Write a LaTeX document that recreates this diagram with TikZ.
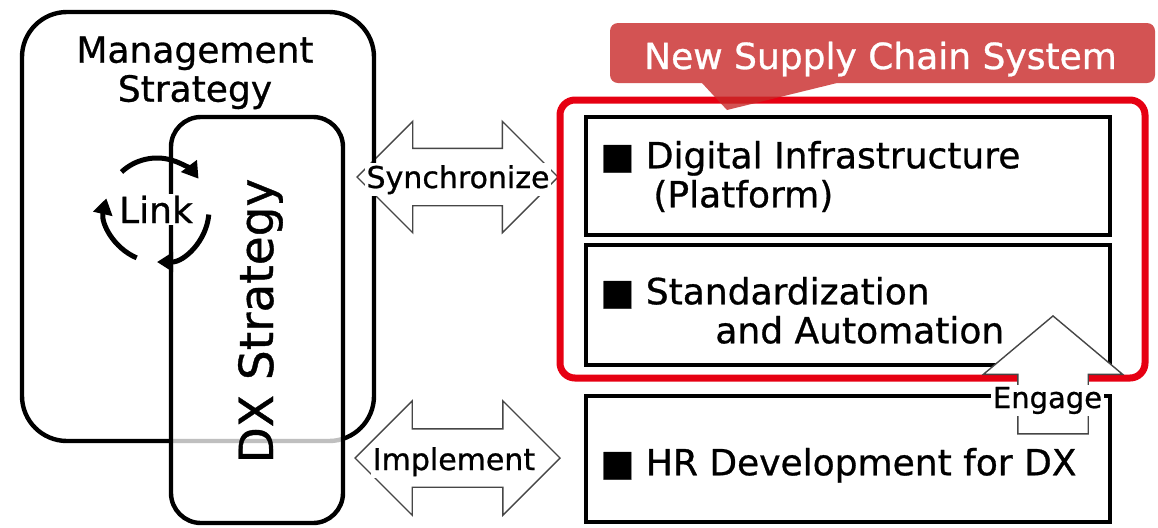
\documentclass[tikz,border=0pt]{standalone}
\usepackage{fontspec}
\setmainfont{DejaVu Sans}[FakeBold=0.8]
\usepackage{tikz}
\usetikzlibrary{%
        arrows.meta,
        shapes.arrows
    }
\definecolor{framered}{RGB}{230, 0, 18}
\definecolor{calloutred}{RGB}{200, 40, 40}
\definecolor{arrowgray}{RGB}{70, 70, 70}

\begin{document}
\begin{tikzpicture}[x=0.5pt, y=-0.5pt,
        bigtext/.style={font=\fontsize{18}{19.5}\selectfont, inner sep=0pt},
        boxtext/.style={bigtext, align=left, anchor=north west},
        itembox/.style={draw, line width=2pt, fill=white,
            minimum width=262pt, inner sep=0pt},
        fatarrow/.style={draw=arrowgray, line width=0.7pt, fill=white,
            inner xsep=0pt},
        arrowlabel/.style={fill=white, inner sep=1pt, anchor=base,
            font=\fontsize{15}{17}\selectfont},
        linkarrow/.style={line width=2.5pt,
            -{Triangle[length=8pt, width=9.5pt]}}
    ]

    \useasboundingbox (0, 0) rectangle (1158, 527);

    % two-way arrows between the strategies and the system
    \node[fatarrow, double arrow, minimum height=100.5pt, inner ysep=14pt,
        double arrow head extend=13.5pt] (sync) at (457.5, 177) {};
    \node[fatarrow, double arrow, minimum height=102.5pt, inner ysep=14.25pt,
        double arrow head extend=14pt] (impl) at (457.5, 458) {};

    % strategy boxes
    \draw[line width=2.2pt, rounded corners=22.5pt] (22, 12) rectangle (374, 441);
    \draw[line width=2.2pt, rounded corners=15pt, fill=white, fill opacity=.75]
        (171, 117) rectangle (343, 523);

    \node[bigtext, align=center, anchor=north] (mgmt) at (195, 36)
        {Management\\Strategy};
    \node[font=\fontsize{23.5}{25}\selectfont, inner sep=0pt, rotate=90,
        anchor=base] (dx) at (273, 321) {DX Strategy};

    \coordinate (linkc) at (157, 210);
    \draw[linkarrow] ([shift={(-133:52)}]linkc) arc[start angle=-133, end angle=-37, radius=52];
    \draw[linkarrow] ([shift={(5:52)}]linkc) arc[start angle=5, end angle=90, radius=52];
    \draw[linkarrow] ([shift={(113:52)}]linkc) arc[start angle=113, end angle=193, radius=52];
    \node[bigtext, fill=white, inner sep=1pt, anchor=base] (link) at (156, 223) {Link};

    \node[arrowlabel] (synclbl) at (458, 188) {Synchronize};
    \node[arrowlabel] (impllbl) at (454, 470) {Implement};

    % new supply chain system
    \draw[framered, line width=3.5pt, rounded corners=7.5pt]
        (560, 100) rectangle (1145, 378);

    \node[itembox, minimum height=58.75pt] (digi) at (848, 176) {};
    \node[itembox, minimum height=60pt] (stdz) at (848, 305) {};
    \node[itembox, minimum height=63pt] (hrdx) at (848, 459) {};

    \node[boxtext] (digitxt) at (600, 140.5)
        {■ Digital Infrastructure\\\hspace*{26.5pt}(Platform)};
    \node[boxtext] (stdztxt) at (600, 276.5)
        {■ Standardization\\\hspace*{57.5pt}and Automation};
    \node[boxtext] (hrdxtxt) at (600, 447.5) {■ HR Development for DX};

    \fill[calloutred, fill opacity=.8]
        (727, 110) --
        (702, 83) {[rounded corners=4pt] --
        (610, 83) --
        (610, 23) --
        (1155, 23) --
        (1155, 83)} --
        (837, 83) --
        cycle;
    \node[bigtext, text=white, anchor=base] (scs) at (880.5, 69)
        {New Supply Chain System};

    \node[fatarrow, single arrow, rotate=90, minimum height=59pt,
        inner ysep=17.25pt, single arrow head extend=17.25pt,
        single arrow tip angle=100, anchor=tip] (engage) at (1053, 315) {};
    \node[arrowlabel, font=\fontsize{14.5}{16}\selectfont] (engagelbl)
        at (1047.5, 408) {Engage};

\end{tikzpicture}
\end{document}
